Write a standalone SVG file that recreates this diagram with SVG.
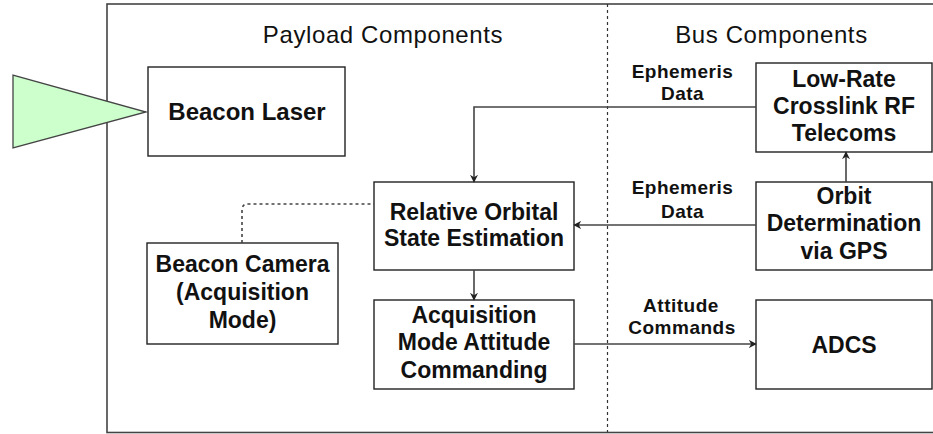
<svg xmlns="http://www.w3.org/2000/svg" width="933" height="434" viewBox="0 0 933 434">
<style>
.box{fill:#ffffff;stroke:#222;stroke-width:1.4}
.t{font-family:"Liberation Sans",Arial,sans-serif;font-weight:bold;font-size:23px;fill:#111;text-anchor:middle}
.lbl{font-family:"Liberation Sans",Arial,sans-serif;font-weight:bold;font-size:19px;fill:#111;text-anchor:middle;letter-spacing:0.5px}
.hdr{font-family:"Liberation Sans",Arial,sans-serif;font-size:24px;fill:#111;text-anchor:middle;letter-spacing:0.6px}
.edge{fill:none;stroke:#444;stroke-width:1.6}
</style>
<defs>
<marker id="arr" viewBox="0 0 10 10" refX="9" refY="5" markerWidth="8" markerHeight="8" markerUnits="userSpaceOnUse" orient="auto">
<path d="M0,0 L10,5 L0,10 L3,5 Z" fill="#222"/>
</marker>
</defs>
<rect width="933" height="434" fill="#ffffff"/>
<g id="frame">
<rect x="107" y="4" width="830" height="428.5" fill="none" stroke="#444" stroke-width="1.6"/>
<line x1="607.5" y1="4" x2="607.5" y2="432" stroke="#333" stroke-width="1.2" stroke-dasharray="3 3"/>
<text class="hdr" x="383" y="43">Payload Components</text>
<text class="hdr" x="771.5" y="43">Bus Components</text>
</g>
<g id="laser-beam">
<polygon points="13,75 13,148 146,112" fill="#ccffcc" stroke="#444" stroke-width="1.3"/>
</g>
<g id="beacon-laser">
<rect class="box" x="148" y="67" width="197" height="89"/>
<text class="t" x="247" y="119.5" style="font-size:24px">Beacon Laser</text>
</g>
<g id="low-rate">
<rect class="box" x="756" y="63" width="176" height="89"/>
<text class="t" x="844" y="87">Low-Rate</text>
<text class="t" x="844" y="114">Crosslink RF</text>
<text class="t" x="844" y="141">Telecoms</text>
</g>
<g id="orbit-determination">
<rect class="box" x="756" y="182" width="176" height="88"/>
<text class="t" x="844" y="203.5">Orbit</text>
<text class="t" x="844" y="231">Determination</text>
<text class="t" x="844" y="258.5">via GPS</text>
</g>
<g id="adcs">
<rect class="box" x="756" y="300" width="176" height="89"/>
<text class="t" x="844" y="352.5">ADCS</text>
</g>
<g id="relative-orbital">
<rect class="box" x="374" y="182" width="200" height="88"/>
<text class="t" x="474" y="219.5">Relative Orbital</text>
<text class="t" x="474" y="245.5">State Estimation</text>
</g>
<g id="acquisition-mode">
<rect class="box" x="374" y="300" width="200" height="89"/>
<text class="t" x="474" y="322.5">Acquisition</text>
<text class="t" x="474" y="350">Mode Attitude</text>
<text class="t" x="474" y="377.5">Commanding</text>
</g>
<g id="beacon-camera">
<rect class="box" x="147" y="243" width="191" height="101"/>
<text class="t" x="242.5" y="272">Beacon Camera</text>
<text class="t" x="242.5" y="300">(Acquisition</text>
<text class="t" x="242.5" y="328">Mode)</text>
</g>
<g id="connectors">
<path class="edge" d="M756 107 H474 V182" marker-end="url(#arr)"/>
<path class="edge" d="M846 182 V152" marker-end="url(#arr)"/>
<path class="edge" d="M756 225 H574" marker-end="url(#arr)"/>
<path class="edge" d="M474 270 V300" marker-end="url(#arr)"/>
<path class="edge" d="M574 344 H756" marker-end="url(#arr)"/>
<path class="edge" d="M242 243 V210 Q242 204 248 204 H374" stroke-dasharray="3 3" stroke-width="1.2"/>
<text class="lbl" x="682.5" y="77.5">Ephemeris</text>
<text class="lbl" x="682.5" y="100">Data</text>
<text class="lbl" x="682.5" y="194">Ephemeris</text>
<text class="lbl" x="682.5" y="218">Data</text>
<text class="lbl" x="681" y="311.5">Attitude</text>
<text class="lbl" x="682" y="334">Commands</text>
</g>
</svg>
